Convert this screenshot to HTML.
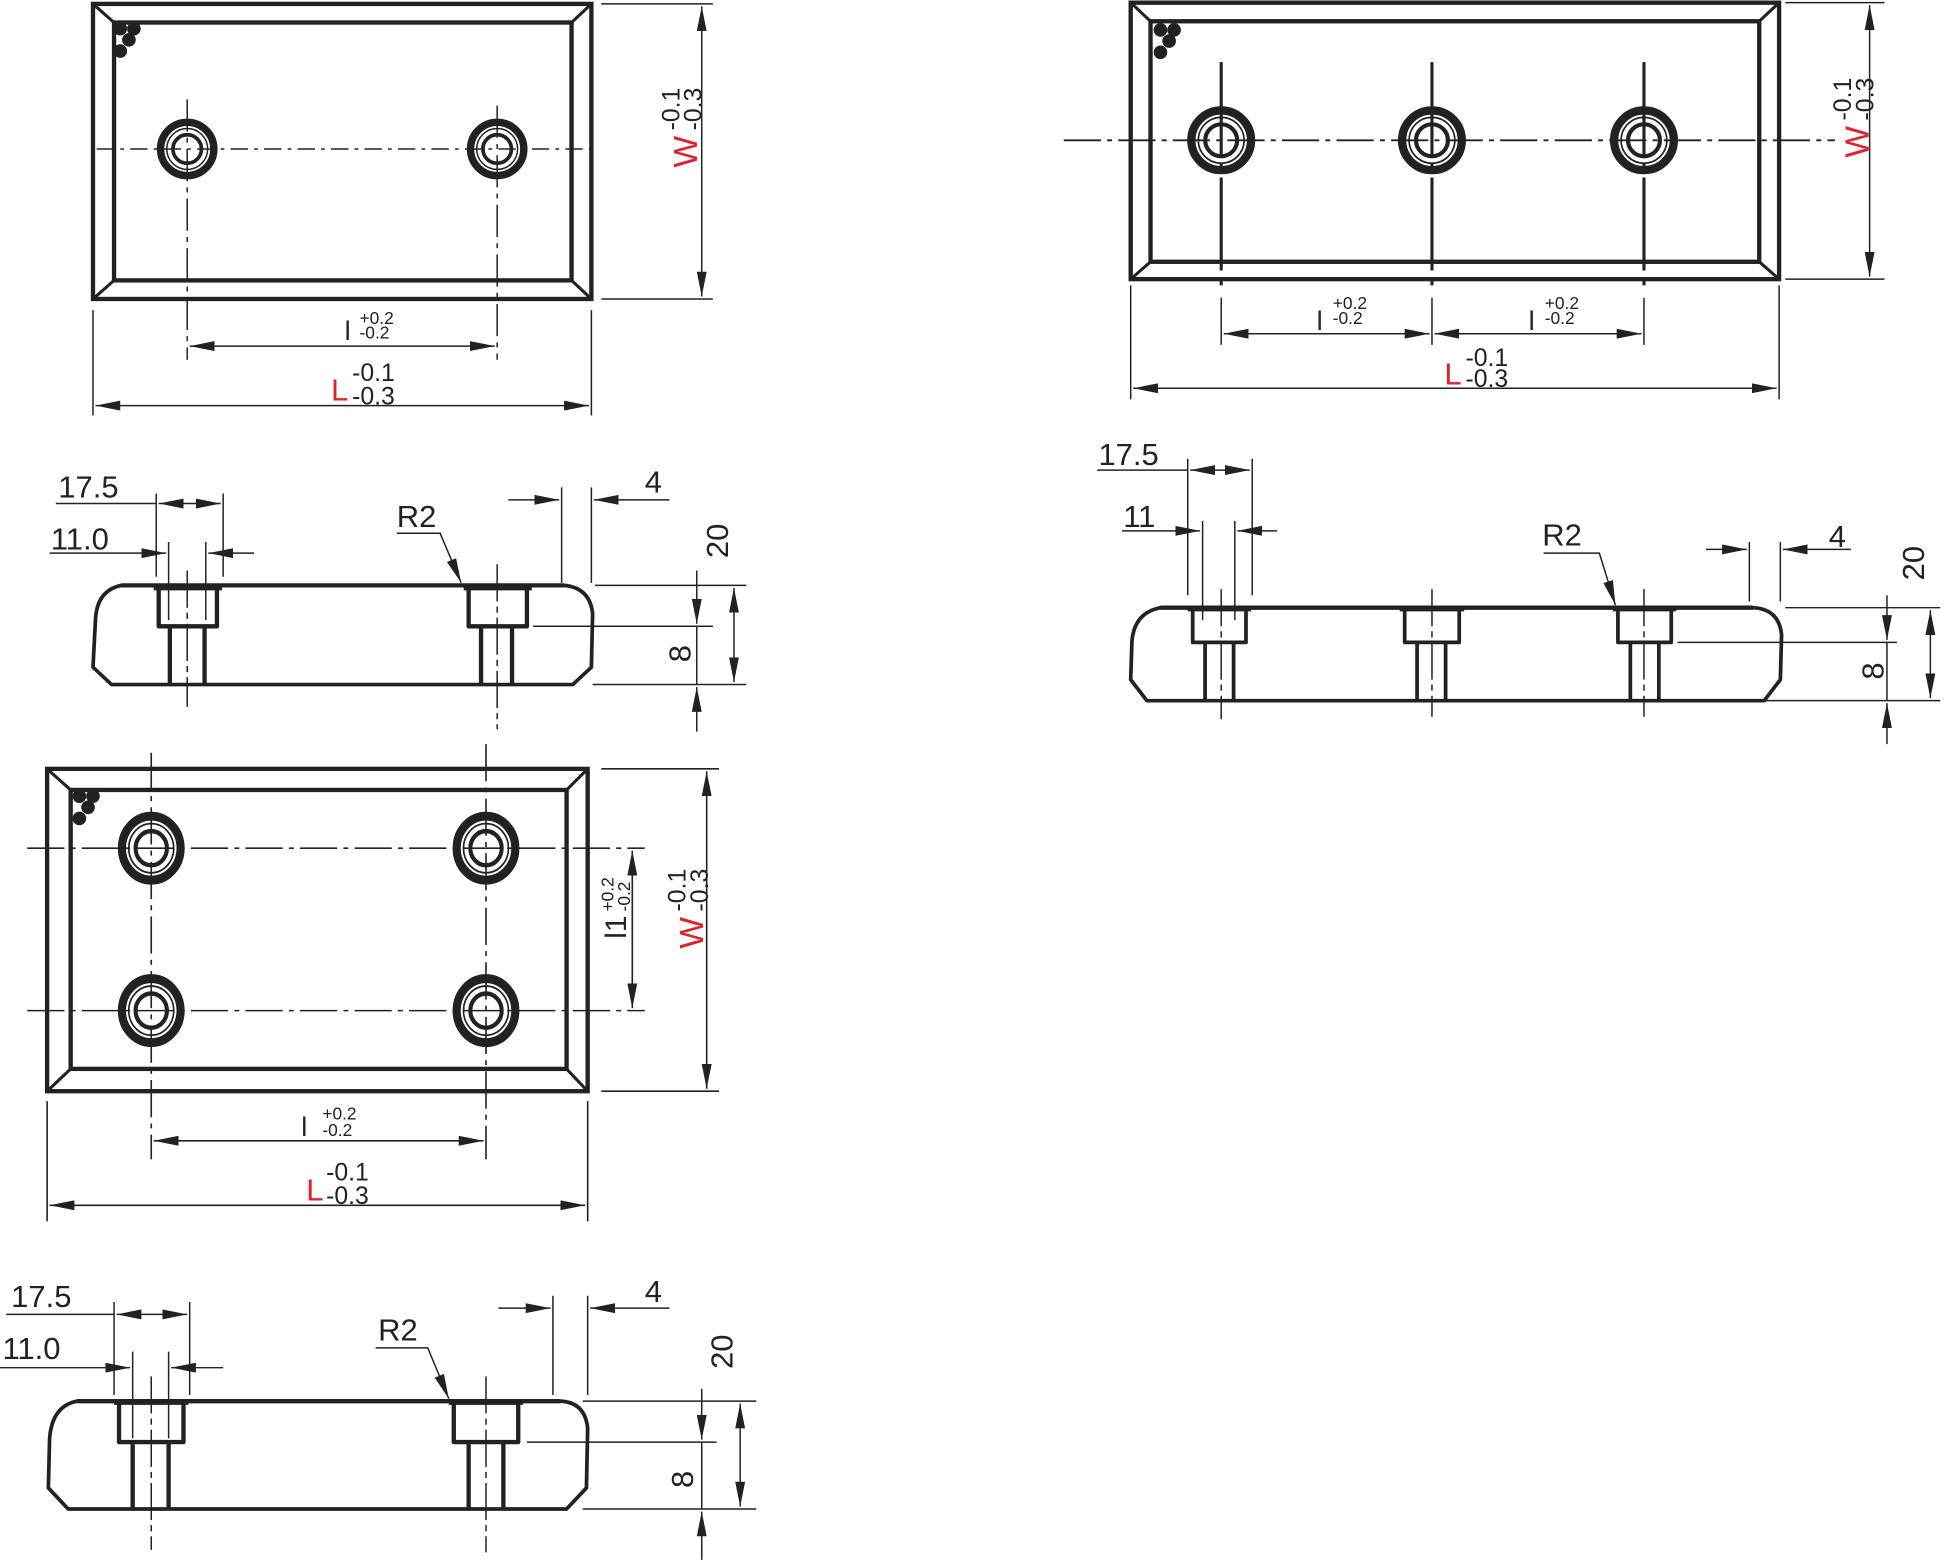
<!DOCTYPE html>
<html><head><meta charset="utf-8"><style>
html,body{margin:0;padding:0;background:#fff}
svg{display:block}
text{font-family:"Liberation Sans",sans-serif;fill:#222}
.r{fill:#e0222a}
</style></head><body>
<svg width="1944" height="1565" viewBox="0 0 1568 1262" xmlns="http://www.w3.org/2000/svg">
<defs>
<marker id="a" viewBox="0 0 20 8" refX="20" refY="4" markerWidth="20" markerHeight="8" markerUnits="userSpaceOnUse" orient="auto-start-reverse"><path d="M0,0 L20,4 L0,8 Z" fill="#222"/></marker>
<g id="hole">
<circle r="21.5" fill="none" stroke="#222" stroke-width="6"/>
<circle r="16.5" fill="none" stroke="#222" stroke-width="1.2"/>
<circle r="11.5" fill="none" stroke="#222" stroke-width="3"/>
</g>
<g id="dots" fill="#222"><circle cx="0" cy="0" r="5"/><circle cx="11" cy="0" r="5"/><circle cx="7" cy="9" r="5"/><circle cx="0" cy="18" r="5"/></g>
</defs>
<g stroke="#222" fill="none" stroke-linecap="butt">

<!-- ===== VIEW A ===== -->
<g stroke-width="3.5">
<rect x="75" y="3" width="402" height="238"/>
<rect x="92" y="18" width="369" height="208"/>
<path d="M75,3 L92,18 M477,3 L461,18 M75,241 L92,226 M477,241 L461,226" stroke-width="2.5"/>
</g>
<use href="#dots" x="97" y="23"/>
<use href="#hole" x="151" y="120"/><use href="#hole" x="401" y="120"/>
<g stroke-width="1.2">
<path d="M78,120 H476" stroke-dasharray="14,5,3,5"/>
<path d="M151,80 V290 M401,85 V290" stroke-dasharray="26,5,4,5"/>
<path d="M485,3 H575 M485,241 H575"/>
<path d="M566,5 V239" marker-start="url(#a)" marker-end="url(#a)"/>
<path d="M75,250 V335 M477,250 V335"/>
<path d="M153,279 H399" marker-start="url(#a)" marker-end="url(#a)"/>
<path d="M77,327 H475" marker-start="url(#a)" marker-end="url(#a)"/>
</g>

<!-- ===== VIEW B ===== -->
<g stroke-width="3.5">
<rect x="912" y="2" width="523" height="223"/>
<rect x="928" y="17" width="491" height="194"/>
<path d="M912,2 L928,17 M1435,2 L1419,17 M912,225 L928,211 M1435,225 L1419,211" stroke-width="2.5"/>
</g>
<use href="#dots" x="936" y="24"/>
<g transform="translate(985,113) scale(1.12)"><use href="#hole"/></g>
<g transform="translate(1155,113) scale(1.12)"><use href="#hole"/></g>
<g transform="translate(1326,113) scale(1.12)"><use href="#hole"/></g>
<g stroke-width="1.5">
<path d="M858,113 H1480" stroke-dasharray="30,5,4,5"/>
<path d="M985,50 V235 M1155,50 V235 M1326,50 V235" stroke-width="2.5" stroke-dasharray="75,6,6,6"/>
<path d="M1440,2 H1520 M1440,225 H1520" stroke-width="1.2"/>
<path d="M1508,4 V223" stroke-width="1.2" marker-start="url(#a)" marker-end="url(#a)"/>
<path d="M912,230 V322 M1435,230 V322 M985,240 V278 M1155,240 V278 M1326,240 V278" stroke-width="1.2"/>
<path d="M987,269 H1153" stroke-width="1.2" marker-start="url(#a)" marker-end="url(#a)"/>
<path d="M1157,269 H1324" stroke-width="1.2" marker-start="url(#a)" marker-end="url(#a)"/>
<path d="M914,313 H1433" stroke-width="1.2" marker-start="url(#a)" marker-end="url(#a)"/>
</g>

<!-- ===== VIEW C (side) ===== -->
<g stroke-width="3.5" stroke-linejoin="round">
<path d="M98,472 Q78,476 77,500 L75,538 L90,552 L462,552 L477,538 L478,495 Q476,474 455,472 Z" stroke-width="3"/>
<path d="M98,472 H455"/>
<path d="M128,474 V505 H175 V474 M137,505 V552 M165,505 V552"/>
<path d="M378,474 V505 H425 V474 M388,505 V552 M413,505 V552"/>
<path d="M124,474 H179 M374,474 H429" stroke-width="4"/>
</g>
<g stroke-width="1.2">
<path d="M151,460 V570 M401,455 V588" stroke-dasharray="30,4,5,4"/>
<path d="M126,398 V465 M180,398 V465 M136,437 V500 M166,437 V500"/>
<path d="M45,406 H126"/>
<path d="M128,406 H178" marker-start="url(#a)" marker-end="url(#a)"/>
<path d="M40,446 H134" marker-end="url(#a)"/>
<path d="M205,446 H168" marker-end="url(#a)"/>
<path d="M320,430 H355 L372,470" marker-end="url(#a)"/>
<path d="M453,393 V470 M477,393 V470"/>
<path d="M410,403 H451" marker-end="url(#a)"/>
<path d="M540,403 H479" marker-end="url(#a)"/>
<path d="M480,472 H602 M478,552 H602 M430,505 H575"/>
<path d="M592,474 V550" marker-start="url(#a)" marker-end="url(#a)"/>
<path d="M562,460 V503" marker-end="url(#a)"/>
<path d="M562,590 V554" marker-end="url(#a)"/>
<path d="M562,505 V552"/>
</g>

<!-- ===== VIEW D ===== -->
<g stroke-width="3.5">
<rect x="38" y="620" width="436" height="260"/>
<rect x="57" y="637" width="400" height="225"/>
<path d="M38,620 L57,637 M474,620 L457,637 M38,880 L57,862 M474,880 L457,862" stroke-width="2.5"/>
</g>
<use href="#dots" x="64" y="642"/>
<g transform="translate(122,684) scale(1.1,1.2)"><use href="#hole"/></g>
<g transform="translate(392,684) scale(1.1,1.2)"><use href="#hole"/></g>
<g transform="translate(122,815) scale(1.1,1.2)"><use href="#hole"/></g>
<g transform="translate(392,815) scale(1.1,1.2)"><use href="#hole"/></g>
<g stroke-width="1.3">
<path d="M22,684 H520 M22,815 H520" stroke-dasharray="30,5,4,5"/>
<path d="M122,607 V935 M392,600 V935" stroke-dasharray="30,5,4,5"/>
<path d="M485,620 H580 M485,880 H580"/>
<path d="M570,622 V878" marker-start="url(#a)" marker-end="url(#a)"/>
<path d="M510,686 V813" marker-start="url(#a)" marker-end="url(#a)"/>
<path d="M38,888 V985 M474,888 V985"/>
<path d="M124,920 H390" marker-start="url(#a)" marker-end="url(#a)"/>
<path d="M40,972 H472" marker-start="url(#a)" marker-end="url(#a)"/>
</g>

<!-- ===== VIEW E (side) ===== -->
<g stroke-width="3.5" stroke-linejoin="round">
<path d="M62,1130 Q42,1134 40,1160 L39,1200 L55,1217 L457,1217 L473,1200 L474,1152 Q472,1131 452,1130 Z" stroke-width="3"/>
<path d="M62,1130 H452"/>
<path d="M96,1132 V1163 H148 V1132 M107,1163 V1217 M136,1163 V1217"/>
<path d="M366,1132 V1163 H418 V1132 M378,1163 V1217 M406,1163 V1217"/>
<path d="M92,1131 H152 M362,1131 H422" stroke-width="4"/>
</g>
<g stroke-width="1.2">
<path d="M122,1110 V1250 M392,1110 V1252" stroke-dasharray="30,4,5,4"/>
<path d="M92,1050 V1125 M153,1050 V1125 M107,1090 V1160 M136,1090 V1160"/>
<path d="M5,1060 H92"/>
<path d="M94,1060 H151" marker-start="url(#a)" marker-end="url(#a)"/>
<path d="M0,1103 H105" marker-end="url(#a)"/>
<path d="M180,1103 H138" marker-end="url(#a)"/>
<path d="M303,1087 H345 L362,1128" marker-end="url(#a)"/>
<path d="M446,1045 V1125 M474,1045 V1125"/>
<path d="M402,1055 H444" marker-end="url(#a)"/>
<path d="M540,1055 H476" marker-end="url(#a)"/>
<path d="M470,1130 H610 M470,1217 H610 M425,1163 H578"/>
<path d="M597,1132 V1215" marker-start="url(#a)" marker-end="url(#a)"/>
<path d="M566,1120 V1161" marker-end="url(#a)"/>
<path d="M566,1258 V1219" marker-end="url(#a)"/>
<path d="M566,1163 V1217"/>
</g>

<!-- ===== VIEW F (side) ===== -->
<g stroke-width="3" stroke-linejoin="round">
<path d="M936,490 Q915,494 913,517 L912,548 L925,565 L1423,565 L1436,548 L1437,512 Q1435,491 1414,490 Z"/>
<path d="M936,490 H1414" stroke-width="3.5"/>
<path d="M962,492 V518 H1005 V492 M972,518 V565 M995,518 V565"/>
<path d="M1133,492 V518 H1177 V492 M1143,518 V565 M1166,518 V565"/>
<path d="M1305,492 V518 H1348 V492 M1315,518 V565 M1338,518 V565"/>
<path d="M958,491 H1009 M1129,491 H1181 M1301,491 H1352" stroke-width="4"/>
</g>
<g stroke-width="1.2">
<path d="M985,475 V580 M1155,475 V578 M1326,475 V578" stroke-dasharray="30,4,5,4"/>
<path d="M958,370 V480 M1010,370 V480 M970,420 V500 M996,420 V500"/>
<path d="M885,379 H958"/>
<path d="M960,379 H1008" marker-start="url(#a)" marker-end="url(#a)"/>
<path d="M905,428 H968" marker-end="url(#a)"/>
<path d="M1030,428 H998" marker-end="url(#a)"/>
<path d="M1245,446 H1290 L1303,488" marker-end="url(#a)"/>
<path d="M1411,437 V485 M1436,437 V485"/>
<path d="M1376,443 H1409" marker-end="url(#a)"/>
<path d="M1493,443 H1438" marker-end="url(#a)"/>
<path d="M1440,490 H1565 M1420,565 H1565 M1353,518 H1530"/>
<path d="M1557,492 V563" marker-start="url(#a)" marker-end="url(#a)"/>
<path d="M1522,480 V516" marker-end="url(#a)"/>
<path d="M1522,600 V567" marker-end="url(#a)"/>
<path d="M1522,518 V565"/>
</g>
</g>

<!-- ===== TEXT ===== -->
<text x="278" y="274" font-size="22">l</text>
<text x="290" y="261" font-size="14">+0.2</text>
<text x="290" y="273" font-size="14">-0.2</text>
<text x="267" y="323" font-size="25" class="r">L</text>
<text x="284" y="307" font-size="20">-0.1</text>
<text x="284" y="326" font-size="20">-0.3</text>
<g transform="translate(562,135) rotate(-90)"><text x="0" y="0" font-size="27" class="r">W</text><text x="30" y="-14" font-size="20">-0.1</text><text x="30" y="4" font-size="20">-0.3</text></g>

<text x="1062" y="266" font-size="22">l</text>
<text x="1075" y="249" font-size="14">+0.2</text>
<text x="1075" y="261" font-size="14">-0.2</text>
<text x="1233" y="266" font-size="22">l</text>
<text x="1246" y="249" font-size="14">+0.2</text>
<text x="1246" y="261" font-size="14">-0.2</text>
<text x="1165" y="310" font-size="25" class="r">L</text>
<text x="1182" y="295" font-size="20">-0.1</text>
<text x="1182" y="312" font-size="20">-0.3</text>
<g transform="translate(1507,127) rotate(-90)"><text x="0" y="0" font-size="27" class="r">W</text><text x="30" y="-14" font-size="20">-0.1</text><text x="30" y="4" font-size="20">-0.3</text></g>

<text x="47" y="401" font-size="25">17.5</text>
<text x="41" y="443" font-size="25">11.0</text>
<text x="320" y="425" font-size="25">R2</text>
<text x="520" y="397" font-size="25">4</text>
<text transform="translate(587,450) rotate(-90)" font-size="25">20</text>
<text transform="translate(557,534) rotate(-90)" font-size="25">8</text>

<text x="243" y="916" font-size="22">l</text>
<text x="260" y="903" font-size="14">+0.2</text>
<text x="260" y="916" font-size="14">-0.2</text>
<text x="247" y="968" font-size="25" class="r">L</text>
<text x="263" y="952" font-size="20">-0.1</text>
<text x="263" y="971" font-size="20">-0.3</text>
<g transform="translate(505,757) rotate(-90)"><text x="0" y="0" font-size="24">l1</text><text x="22" y="-10" font-size="14">+0.2</text><text x="22" y="3" font-size="14">-0.2</text></g>
<g transform="translate(567,765) rotate(-90)"><text x="0" y="0" font-size="27" class="r">W</text><text x="30" y="-14" font-size="20">-0.1</text><text x="30" y="4" font-size="20">-0.3</text></g>

<text x="9" y="1054" font-size="25">17.5</text>
<text x="2" y="1096" font-size="25">11.0</text>
<text x="305" y="1081" font-size="25">R2</text>
<text x="520" y="1050" font-size="25">4</text>
<text transform="translate(591,1104) rotate(-90)" font-size="25">20</text>
<text transform="translate(559,1200) rotate(-90)" font-size="25">8</text>

<text x="886" y="375" font-size="25">17.5</text>
<text x="906" y="425" font-size="25">11</text>
<text x="1244" y="440" font-size="25">R2</text>
<text x="1475" y="441" font-size="25">4</text>
<text transform="translate(1552,468) rotate(-90)" font-size="25">20</text>
<text transform="translate(1519,548) rotate(-90)" font-size="25">8</text>
</svg>
</body></html>
